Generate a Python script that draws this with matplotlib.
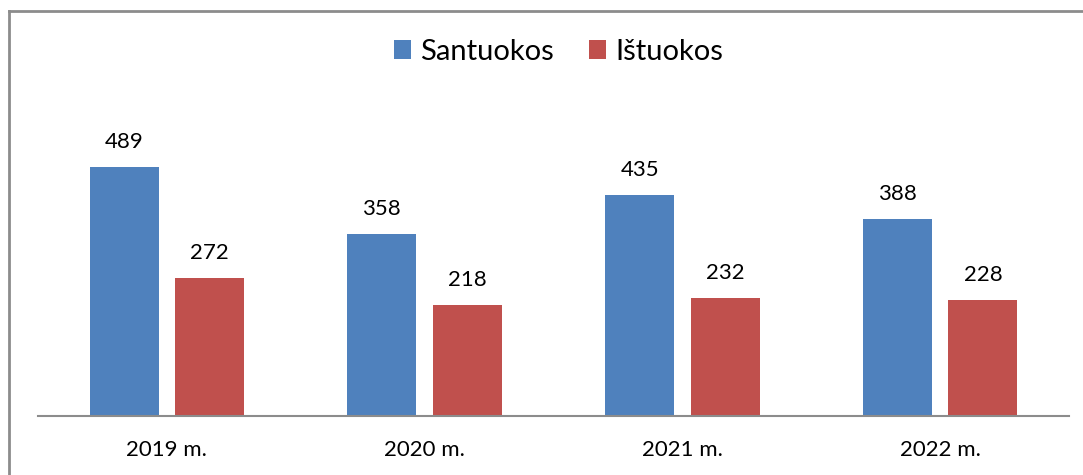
import matplotlib
matplotlib.use("Agg")
import matplotlib.pyplot as plt
from matplotlib.lines import Line2D
import numpy as np

categories = ["2019 m.", "2020 m.", "2021 m.", "2022 m."]
santuokos = [489, 358, 435, 388]
istuokos = [272, 218, 232, 228]
series_names = ["Santuokos", "Ištuokos"]
colors = ["#4F81BD", "#C0504D"]

plt.rcParams['font.family'] = ['Lato', 'DejaVu Sans']

W, H = 1083, 475
fig = plt.figure(figsize=(W / 100, H / 100), dpi=100)
ax = fig.add_axes([38 / W, 1 - 416 / H, (1069 - 38) / W, (416 - 111) / H])

x = np.arange(len(categories))
bw = 0.268
off = 0.166
b1 = ax.bar(x - off, santuokos, bw, color=colors[0], label=series_names[0])
b2 = ax.bar(x + off, istuokos, bw, color=colors[1], label=series_names[1])

for bars, vals in ((b1, santuokos), (b2, istuokos)):
    for rect, v in zip(bars, vals):
        ax.annotate(str(v), (rect.get_x() + rect.get_width() / 2, v),
                    xytext=(0, 13.7), textcoords="offset points",
                    ha="center", va="baseline", fontsize=16, color="black")

ax.set_xlim(-0.5, len(categories) - 0.5)
ax.set_ylim(0, 600)
ax.set_xticks(x)
ax.set_xticklabels(categories, fontsize=16)
ax.tick_params(axis='x', length=0, pad=17)
ax.set_yticks([])
for s in ("top", "right", "left"):
    ax.spines[s].set_visible(False)
ax.spines["bottom"].set_color("#8c8c8c")
ax.spines["bottom"].set_linewidth(1.5)

ax.legend(loc="center", bbox_to_anchor=(558.5 / W, 1 - 52 / H), bbox_transform=fig.transFigure,
          ncol=2, frameon=False, fontsize=21, handlelength=0.6, handleheight=0.6,
          handletextpad=0.3, columnspacing=1.2)

# outer frame (left and top edges)
fig.add_artist(Line2D([8.5 / W, 8.5 / W], [0, 1 - 10.5 / H], transform=fig.transFigure,
                      color="#8c8c8c", lw=2))
fig.add_artist(Line2D([8.5 / W, 1], [1 - 10.5 / H, 1 - 10.5 / H], transform=fig.transFigure,
                      color="#8c8c8c", lw=2))

fig.savefig("out.png", dpi=100)
